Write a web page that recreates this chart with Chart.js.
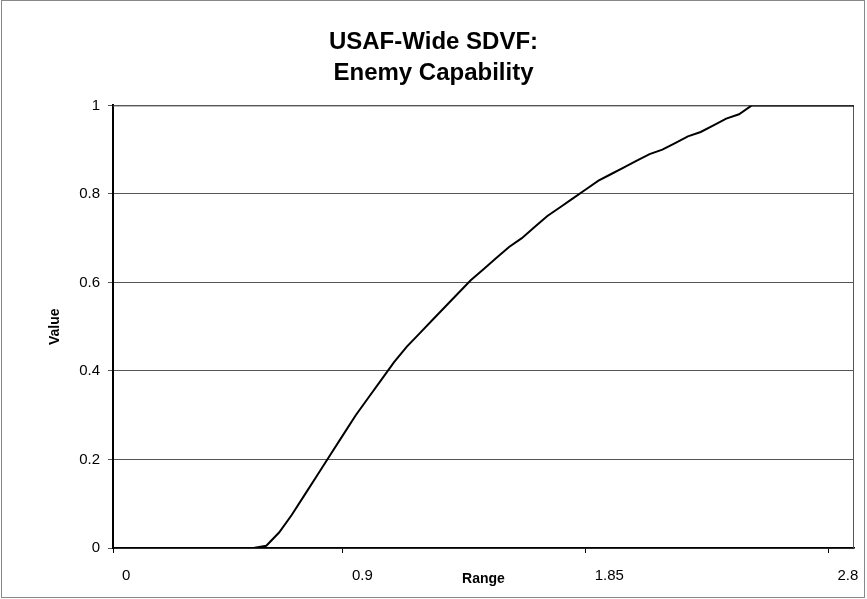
<!DOCTYPE html>
<html><head><meta charset="utf-8">
<script src="https://cdn.jsdelivr.net/npm/chart.js@4/dist/chart.umd.min.js"></script>
<style>html,body{margin:0;padding:0;background:#fff}#wrap{position:relative;width:867px;height:599px}canvas{display:block}</style>
</head><body><div id="wrap"><canvas id="c" width="867" height="599"></canvas></div>
<script>
const chartTitle = ['USAF-Wide SDVF:', 'Enemy Capability'];
const xAxisTitle = 'Range';
const yAxisTitle = 'Value';
const rangePoints = [0, 0.55, 0.6, 0.65, 0.7, 0.75, 0.8, 0.85, 0.9, 0.95, 1.0, 1.05, 1.1, 1.15, 1.2, 1.25, 1.3, 1.35, 1.4, 1.45, 1.5, 1.55, 1.6, 1.65, 1.7, 1.75, 1.8, 1.85, 1.9, 1.95, 2.0, 2.05, 2.1, 2.15, 2.2, 2.25, 2.3, 2.35, 2.4, 2.45, 2.5, 2.9];
const valuePoints = [0, 0, 0.005, 0.035, 0.075, 0.12, 0.165, 0.21, 0.255, 0.30, 0.34, 0.38, 0.42, 0.455, 0.485, 0.515, 0.545, 0.575, 0.605, 0.63, 0.655, 0.68, 0.70, 0.725, 0.75, 0.77, 0.79, 0.81, 0.83, 0.845, 0.86, 0.875, 0.89, 0.90, 0.915, 0.93, 0.94, 0.955, 0.97, 0.98, 1, 1];
const xTickValues = [0, 0.9, 1.85, 2.8];
const xTickLabels = ['0', '0.9', '1.85', '2.8'];
const yTickValues = [0, 0.2, 0.4, 0.6, 0.8, 1];
const yTickLabels = ['0', '0.2', '0.4', '0.6', '0.8', '1'];

const FONT = 'Liberation Sans, Arial, sans-serif';

const framePlugin = {
  id: 'frame',
  beforeDraw(chart) {
    const ctx = chart.ctx;
    ctx.save();
    ctx.fillStyle = '#fff';
    ctx.fillRect(0, 0, chart.width, chart.height);
    ctx.strokeStyle = '#888';
    ctx.lineWidth = 1;
    ctx.strokeRect(1.5, 0.5, chart.width - 4, chart.height - 2);
    ctx.restore();
  },
  beforeDatasetsDraw(chart) {
    const a = chart.chartArea, ctx = chart.ctx;
    ctx.save();
    ctx.strokeStyle = '#555';
    ctx.lineWidth = 1;
    ctx.beginPath();
    ctx.moveTo(a.left, a.top + 0.5);
    ctx.lineTo(a.right - 0.5, a.top + 0.5);
    ctx.lineTo(a.right - 0.5, a.bottom);
    ctx.stroke();
    ctx.restore();
  }
};

new Chart(document.getElementById('c'), {
  type: 'line',
  data: {
    datasets: [{
      data: rangePoints.map((x, i) => ({x: x, y: valuePoints[i]})),
      borderColor: '#000',
      borderWidth: 2,
      pointRadius: 0,
      tension: 0,
      fill: false
    }]
  },
  options: {
    responsive: false,
    animation: false,
    devicePixelRatio: 1,
    layout: {padding: {left: 0, right: 0, top: 0, bottom: 0}},
    plugins: {
      legend: {display: false},
      tooltip: {enabled: false},
      title: {
        display: true,
        text: chartTitle,
        color: '#000',
        font: {family: FONT, size: 24, weight: 'bold', lineHeight: 1.3},
        padding: {top: 27, bottom: 16}
      }
    },
    scales: {
      x: {
        type: 'linear',
        min: 0,
        max: 2.9,
        afterBuildTicks: s => { s.ticks = xTickValues.map(v => ({value: v})); },
        afterFit: s => { s.height = 51; },
        ticks: {
          autoSkip: false,
          maxRotation: 0,
          padding: 14,
          align: 'start',
          labelOffset: 9,
          color: '#000',
          font: {family: FONT, size: 15},
          callback: (v) => { const i = xTickValues.indexOf(v); return i >= 0 ? xTickLabels[i] : ''; }
        },
        grid: {drawOnChartArea: false, drawTicks: true, tickLength: 5, color: '#000'},
        border: {display: true, color: '#000', width: 1.5},
        title: {
          display: true,
          text: xAxisTitle,
          color: '#000',
          font: {family: FONT, size: 14, weight: 'bold'},
          padding: {top: 0, bottom: 11}
        }
      },
      y: {
        min: 0,
        max: 1,
        afterBuildTicks: s => { s.ticks = yTickValues.map(v => ({value: v})); },
        afterFit: s => { s.width = 113; },
        ticks: {
          padding: 8,
          color: '#000',
          font: {family: FONT, size: 15},
          callback: (v) => { const i = yTickValues.indexOf(v); return i >= 0 ? yTickLabels[i] : ''; }
        },
        grid: {color: '#555', lineWidth: 1, tickLength: 5, drawTicks: true},
        border: {display: true, color: '#000', width: 2},
        title: {
          display: true,
          text: yAxisTitle,
          color: '#000',
          font: {family: FONT, size: 14, weight: 'bold'},
          padding: {top: 47, bottom: 0}
        }
      },
      yRight: {
        position: 'right',
        display: true,
        afterFit: s => { s.width = 13; },
        ticks: {display: false},
        grid: {display: false},
        border: {display: false}
      }
    }
  },
  plugins: [framePlugin]
});
</script>
</body></html>
